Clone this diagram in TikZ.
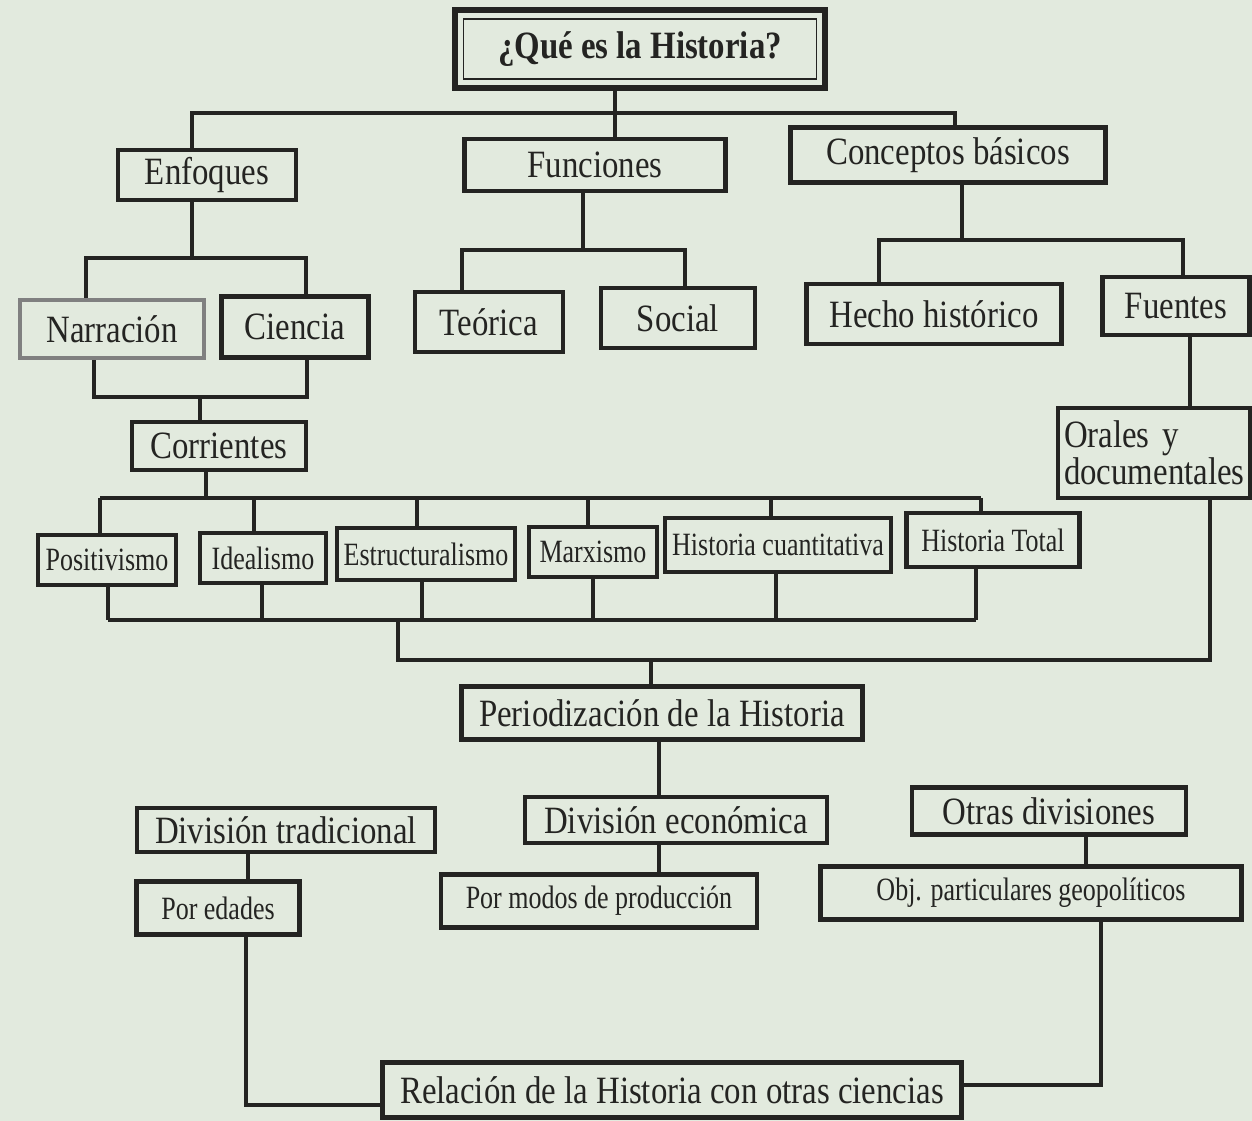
\documentclass[tikz,border=0pt]{standalone}
\usepackage{fontspec}
\setmainfont[FakeStretch=0.85]{Liberation Serif}
\newfontfamily\narrowfont[FakeStretch=0.8]{Liberation Serif}
\usepackage{tikz}
\usetikzlibrary{positioning,calc}
\definecolor{paper}{RGB}{226,234,222}
\definecolor{ink}{RGB}{36,36,34}

\begin{document}
\begin{tikzpicture}[x=0.02cm,y=-0.02cm,
    every node/.append style={text=ink,inner sep=2pt},
    bigbox/.style={draw=ink,line width=2.8pt,font=\fontsize{22}{22}\selectfont},
    smallbox/.style={draw=ink,line width=2.6pt,font=\narrowfont\fontsize{18.5}{20}\selectfont},
    link/.style={draw=ink,line width=2.2pt,line join=miter}]
    \useasboundingbox (0,0) rectangle (1252,1121);
    \fill[paper] (0,0) rectangle (1252,1121);

    \node[bigbox,line width=3.4pt,font=\bfseries\fontsize{22}{22}\selectfont,
          minimum width=7.42cm,minimum height=1.56cm] (que) at (640,49) {¿Qué es la Historia?};
    \draw[ink,line width=1pt] ([shift={(12,12)}]que.north west) rectangle ([shift={(-12,-12)}]que.south east);

    \node[bigbox,minimum width=3.56cm,minimum height=1.0cm] (enfoques) at (207,175) {Enfoques};
    \node[bigbox,minimum width=5.22cm,minimum height=1.04cm] (funciones) at (595,165) {Funciones};
    \node[bigbox,minimum width=6.3cm,minimum height=1.1cm] (conceptos) at (948,155) {Conceptos básicos};

    \node[bigbox,draw=black!50,minimum width=3.68cm,minimum height=1.16cm] (narracion) at (112,329) {Narración};
    \node[bigbox,minimum width=2.94cm,minimum height=1.22cm] (ciencia) at (295,327) {Ciencia};
    \node[bigbox,minimum width=2.96cm,minimum height=1.2cm] (teorica) at (489,322) {Teórica};
    \node[bigbox,minimum width=3.08cm,minimum height=1.2cm] (social) at (678,318) {Social};
    \node[bigbox,minimum width=5.1cm,minimum height=1.2cm] (hecho) at (934,314) {Hecho histórico};
    \node[bigbox,minimum width=2.94cm,minimum height=1.16cm] (fuentes) at (1176,306) {Fuentes};
    \node[bigbox,minimum width=3.84cm,minimum height=1.8cm,text width=3.6cm,align=left,
          font=\fontsize{22}{21}\selectfont] (orales) at (1154,453) {Orales y\\documentales};

    \node[bigbox,minimum width=3.48cm,minimum height=0.96cm] (corrientes) at (219,446) {Corrientes};

    \node[smallbox,minimum width=2.76cm,minimum height=1.0cm] (positivismo) at (107,560) {Positivismo};
    \node[smallbox,minimum width=2.52cm,minimum height=1.0cm] (idealismo) at (263,558) {Idealismo};
    \node[smallbox,minimum width=3.56cm,minimum height=1.04cm] (estructuralismo) at (426,554) {Estructuralismo};
    \node[smallbox,minimum width=2.56cm,minimum height=1.0cm] (marxismo) at (593,552) {Marxismo};
    \node[smallbox,minimum width=4.52cm,minimum height=1.08cm] (cuantitativa) at (778,545) {Historia cuantitativa};
    \node[smallbox,minimum width=3.46cm,minimum height=1.08cm] (total) at (993,540) {Historia Total};

    \node[bigbox,minimum width=8.02cm,minimum height=1.06cm] (periodizacion) at (662,713) {Periodización de la Historia};

    \node[bigbox,minimum width=5.96cm,minimum height=0.88cm] (tradicional) at (286,830) {División tradicional};
    \node[bigbox,minimum width=6.04cm,minimum height=0.92cm] (economica) at (676,820) {División económica};
    \node[bigbox,minimum width=5.48cm,minimum height=0.94cm] (otras) at (1049,811) {Otras divisiones};

    \node[smallbox,minimum width=3.26cm,minimum height=1.06cm] (edades) at (218,908) {Por edades};
    \node[smallbox,minimum width=6.32cm,minimum height=1.06cm] (modos) at (599,901) {Por modos de producción};
    \node[smallbox,minimum width=8.42cm,minimum height=1.06cm] (obj) at (1031,893) {Obj. particulares geopolíticos};

    \node[bigbox,minimum width=11.6cm,minimum height=1.1cm] (relacion) at (672,1090) {Relación de la Historia con otras ciencias};

    \coordinate (qe) at (192,113);
    \coordinate (qf) at (615,113);
    \coordinate (qc) at (955,113);
    \draw[link] (que.south -| qf) -- (qf);
    \draw[link] (enfoques.north -| qe) -- (qe) -- (qc) -- (conceptos.north -| qc);
    \draw[link] (qf) -- (funciones.north -| qf);

    \coordinate (en) at (86,258);
    \coordinate (ec) at (306,258);
    \draw[link] (enfoques.south -| qe) -- (qe |- en);
    \draw[link] (narracion.north -| en) -- (en) -- (ec) -- (ciencia.north -| ec);

    \coordinate (fm) at (583,250);
    \coordinate (ft) at (462,250);
    \coordinate (fs) at (685,250);
    \draw[link] (funciones.south -| fm) -- (fm);
    \draw[link] (teorica.north -| ft) -- (ft) -- (fs) -- (social.north -| fs);

    \coordinate (cm) at (962,240);
    \coordinate (ch) at (879,240);
    \coordinate (cf) at (1183,240);
    \draw[link] (conceptos.south -| cm) -- (cm);
    \draw[link] (hecho.north -| ch) -- (ch) -- (cf) -- (fuentes.north -| cf);
    \coordinate (fo) at (1190,380);
    \draw[link] (fuentes.south -| fo) -- (orales.north -| fo);

    \coordinate (nc1) at (94,397);
    \coordinate (nc2) at (307,397);
    \coordinate (nc3) at (200,397);
    \draw[link] (narracion.south -| nc1) -- (nc1) -- (nc2) -- (ciencia.south -| nc2);
    \draw[link] (nc3) -- (corrientes.north -| nc3);

    \coordinate (ca) at (100,498);
    \coordinate (cb) at (981,498);
    \coordinate (cc) at (206,498);
    \draw[link] (corrientes.south -| cc) -- (cc);
    \draw[link] (ca) -- (cb);
    \foreach \n/\x in {positivismo/100,idealismo/254,estructuralismo/417,marxismo/588,cuantitativa/771,total/981}{
      \coordinate (tmp) at (\x,498);
      \draw[link] (tmp) -- (\n.north -| tmp);
    }

    \coordinate (la) at (108,620);
    \coordinate (lb) at (976,620);
    \draw[link] (la) -- (lb);
    \foreach \n/\x in {positivismo/108,idealismo/262,estructuralismo/422,marxismo/593,cuantitativa/776,total/976}{
      \coordinate (tmp) at (\x,620);
      \draw[link] (\n.south -| tmp) -- (tmp);
    }

    \coordinate (ob) at (1210,660);
    \coordinate (pb) at (398,660);
    \coordinate (pd) at (651,660);
    \draw[link] (orales.south -| ob) -- (ob) -- (pb) -- (pb |- la);
    \draw[link] (pd) -- (periodizacion.north -| pd);

    \coordinate (pe) at (659,770);
    \draw[link] (periodizacion.south -| pe) -- (economica.north -| pe);
    \draw[link] (economica.south -| pe) -- (modos.north -| pe);
    \coordinate (te) at (248,870);
    \draw[link] (tradicional.south -| te) -- (edades.north -| te);
    \coordinate (oo) at (1086,850);
    \draw[link] (otras.south -| oo) -- (obj.north -| oo);

    \coordinate (er) at (246,1105);
    \draw[link] (edades.south -| er) -- (er) -- (relacion.west |- er);
    \coordinate (orr) at (1101,1085);
    \draw[link] (obj.south -| orr) -- (orr) -- (relacion.east |- orr);
\end{tikzpicture}
\end{document}
